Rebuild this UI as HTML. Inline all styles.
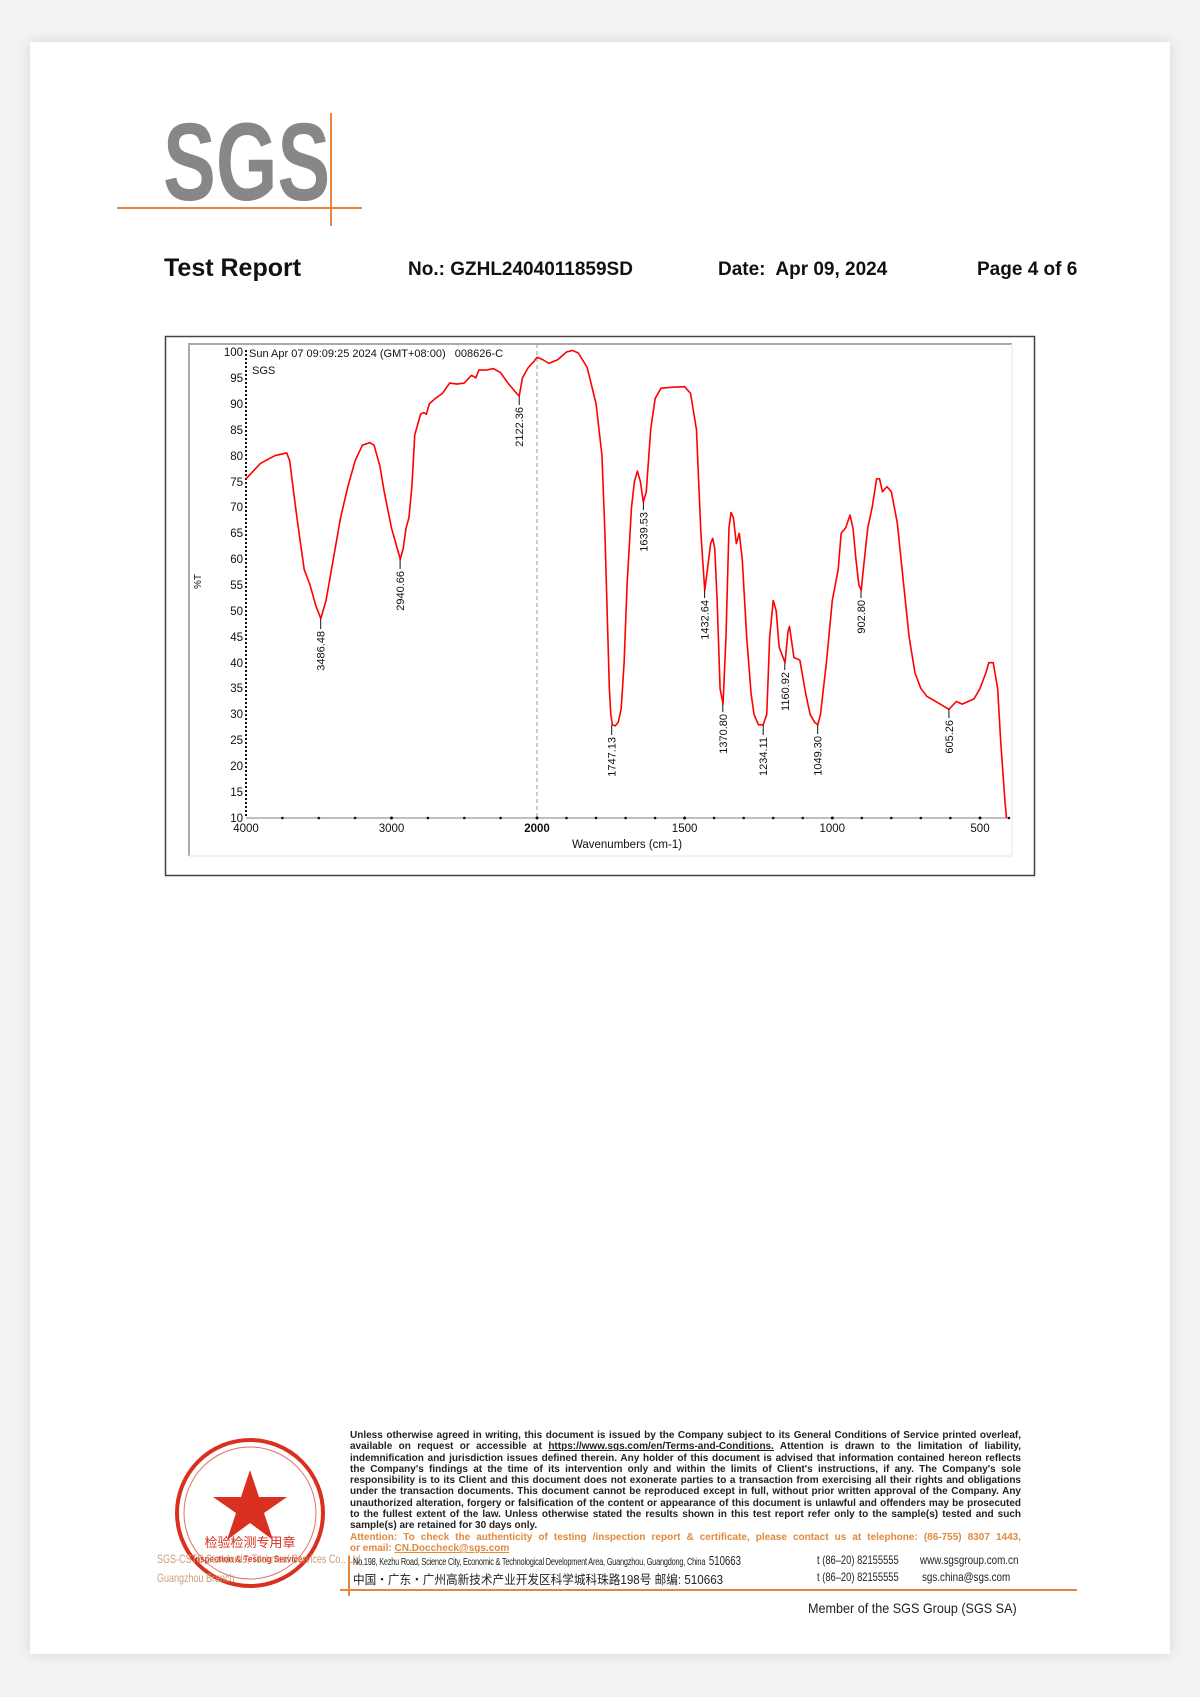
<!DOCTYPE html>
<html><head><meta charset="utf-8"><style>
body{margin:0;width:1200px;height:1697px;background:#f2f2f2;position:relative;overflow:hidden;font-family:"Liberation Sans",sans-serif}
.page{position:absolute;left:30px;top:42px;width:1140px;height:1612px;background:#fff;box-shadow:0 0 12px rgba(0,0,0,.12)}
.a{position:absolute;white-space:nowrap}
.hd{font-weight:bold;font-size:19px;top:259px;color:#111}
.sx{transform-origin:left top}
.ft{position:absolute;left:350px;width:671px;font-family:"Liberation Sans",sans-serif;font-weight:bold;font-size:10px;line-height:11.3px;color:#222}
.ft div{text-align:justify;text-align-last:justify;white-space:nowrap;height:11.3px}
</style></head><body>
<div class="page"></div>
<div class="a sx" style="left:163px;top:108px;font-size:110px;font-weight:bold;color:#878787;transform:scaleX(0.72);line-height:110px">SGS</div>
<div class="a" style="left:117px;top:207px;width:245px;height:2px;background:#e8843c"></div>
<div class="a" style="left:330px;top:113px;width:1.5px;height:113px;background:#e8843c"></div>
<div class="a hd" style="left:164px;font-size:25px;top:254px">Test Report</div>
<div class="a hd" style="left:408px">No.: GZHL2404011859SD</div>
<div class="a hd" style="left:718px">Date:&nbsp; Apr 09, 2024</div>
<div class="a hd" style="left:977px">Page 4 of 6</div>

<svg class="a" style="left:0;top:0" width="1200" height="900">
<rect x="165.5" y="336.5" width="869" height="539" fill="#fff" stroke="#444" stroke-width="1.5"/>
<path d="M189 856 V344 H1012" fill="none" stroke="#aaa" stroke-width="2"/>
<path d="M1012 344 V856 H189" fill="none" stroke="#eee" stroke-width="1.5"/>
<line x1="537" y1="344" x2="537" y2="818" stroke="#999" stroke-dasharray="4,3" stroke-width="1"/>
<line x1="246" y1="818" x2="1009" y2="818" stroke="#aaa" stroke-width="1.5"/>
<line x1="246" y1="350" x2="246" y2="818" stroke="#111" stroke-width="2" stroke-dasharray="2,2"/>
<g fill="#111">
<circle cx="282.4" cy="818" r="1.3"/><circle cx="318.8" cy="818" r="1.3"/><circle cx="355.1" cy="818" r="1.3"/><circle cx="391.5" cy="818" r="1.5"/><circle cx="427.9" cy="818" r="1.3"/><circle cx="464.3" cy="818" r="1.3"/><circle cx="500.6" cy="818" r="1.3"/><circle cx="537" cy="818" r="1.5"/>
<circle cx="566.5" cy="818" r="1.3"/><circle cx="596" cy="818" r="1.3"/><circle cx="625.6" cy="818" r="1.3"/><circle cx="655.1" cy="818" r="1.3"/><circle cx="684.6" cy="818" r="1.5"/><circle cx="714.1" cy="818" r="1.3"/><circle cx="743.7" cy="818" r="1.3"/><circle cx="773.2" cy="818" r="1.3"/><circle cx="802.7" cy="818" r="1.3"/><circle cx="832.3" cy="818" r="1.5"/><circle cx="861.8" cy="818" r="1.3"/><circle cx="891.3" cy="818" r="1.3"/><circle cx="920.8" cy="818" r="1.3"/><circle cx="950.4" cy="818" r="1.3"/><circle cx="980" cy="818" r="1.5"/><circle cx="1009" cy="818" r="1.3"/>
</g>
<g font-size="11.5" fill="#111" text-anchor="end" font-family="Liberation Sans,sans-serif">
<text x="243" y="356">100</text><text x="243" y="382">95</text><text x="243" y="408">90</text><text x="243" y="434">85</text><text x="243" y="460">80</text><text x="243" y="486">75</text><text x="243" y="511">70</text><text x="243" y="537">65</text><text x="243" y="563">60</text><text x="243" y="589">55</text><text x="243" y="615">50</text><text x="243" y="641">45</text><text x="243" y="667">40</text><text x="243" y="692">35</text><text x="243" y="718">30</text><text x="243" y="744">25</text><text x="243" y="770">20</text><text x="243" y="796">15</text><text x="243" y="822">10</text>
</g>
<g font-size="11.5" fill="#111" text-anchor="middle">
<text x="246" y="832">4000</text><text x="391.5" y="832">3000</text><text x="537" y="832" font-weight="bold">2000</text><text x="684.6" y="832">1500</text><text x="832.3" y="832">1000</text><text x="980" y="832">500</text>
<text x="627" y="848">Wavenumbers (cm-1)</text>
</g>
<text transform="translate(201,589) rotate(-90)" font-size="10" fill="#111">%T</text>
<text x="249" y="357" font-size="11" fill="#111">Sun Apr 07 09:09:25 2024 (GMT+08:00)&#160;&#160; 008626-C</text>
<text x="252" y="374" font-size="11" fill="#111">SGS</text>
<g fill="none" stroke="#f00" stroke-width="1.6" stroke-linejoin="round">
<polyline vector-effect="non-scaling-stroke" transform="translate(828,869.78) scale(-0.1455,-5.178)" points="4000,75.5 3900,78.5 3800,80 3720,80.5 3700,79 3650,68 3600,58 3560,55 3520,51 3486,48.5 3450,52 3400,60 3350,68 3300,74 3250,79 3200,82 3150,82.5 3120,82 3080,78 3050,73 3000,66 2960,62 2940,60 2920,62 2900,66 2880,68 2860,74 2840,84 2800,88 2780,88.3 2760,88 2740,90 2700,91 2650,92 2600,94 2550,93.8 2500,94 2450,95.5 2420,95 2400,96.5 2350,96.5 2300,96.8 2250,96 2200,94 2170,93 2140,92 2122,91.5 2100,95 2060,97 2020,98.2 2000,99"/>
<polyline vector-effect="non-scaling-stroke" transform="translate(1127.6,869.78) scale(-0.2953,-5.178)" points="2000,99 1980,98.5 1960,97.8 1930,98.5 1900,100 1880,100.3 1860,99.8 1830,97 1800,90 1780,80 1770,65 1760,45 1755,35 1750,30 1745,28 1735,27.8 1725,28.5 1715,31 1705,40 1695,55 1680,70 1670,75 1660,77 1650,75 1640,71 1630,73 1615,85 1600,91 1580,93 1540,93.2 1500,93.3 1480,92 1460,85 1445,65 1432,54 1425,57 1412,63 1405,64 1398,62 1390,52 1380,35 1370,32 1360,45 1350,66 1343,69 1335,68 1325,63 1315,65 1305,60 1290,45 1275,34 1265,30 1250,28 1234,28 1222,30 1212,45 1200,52 1190,50 1180,43 1160,40 1150,46 1145,47 1130,41 1110,40.5 1090,34 1075,30 1060,28.5 1049,28 1040,30 1020,40 1000,52 980,58 970,65 955,66 940,68.5 930,66 920,60 910,55 902,54 895,58 880,66 865,70 850,75.5 840,75.5 830,73 815,74 800,73 780,67 760,56 740,45 720,38 700,35 680,33.5 650,32.5 620,31.5 605,31 580,32.5 560,32 540,32.5 520,33 500,35 480,38 470,40 455,40 440,35 430,25 420,17 415,13 410,10"/>
</g>
<g stroke="#111" stroke-width="1">
<line x1="320.7" y1="619" x2="320.7" y2="629"/><line x1="400.1" y1="559" x2="400.1" y2="569"/><line x1="519.2" y1="396" x2="519.2" y2="405"/><line x1="611.7" y1="725" x2="611.7" y2="735"/><line x1="643.4" y1="502" x2="643.4" y2="510"/><line x1="704.6" y1="590" x2="704.6" y2="598"/><line x1="722.8" y1="704" x2="722.8" y2="712"/><line x1="763.2" y1="725" x2="763.2" y2="735"/><line x1="784.8" y1="663" x2="784.8" y2="670"/><line x1="817.7" y1="725" x2="817.7" y2="734"/><line x1="861" y1="590" x2="861" y2="598"/><line x1="948.9" y1="709" x2="948.9" y2="718"/>
</g>
<g font-size="11" fill="#111" text-anchor="end">
<text transform="translate(324.7,631) rotate(-90)">3486.48</text>
<text transform="translate(404.1,571) rotate(-90)">2940.66</text>
<text transform="translate(523.2,407) rotate(-90)">2122.36</text>
<text transform="translate(615.7,737) rotate(-90)">1747.13</text>
<text transform="translate(647.4,512) rotate(-90)">1639.53</text>
<text transform="translate(708.6,600) rotate(-90)">1432.64</text>
<text transform="translate(726.8,714) rotate(-90)">1370.80</text>
<text transform="translate(767.2,737) rotate(-90)">1234.11</text>
<text transform="translate(788.8,672) rotate(-90)">1160.92</text>
<text transform="translate(821.7,736) rotate(-90)">1049.30</text>
<text transform="translate(865,600) rotate(-90)">902.80</text>
<text transform="translate(952.9,720) rotate(-90)">605.26</text>
</g>
</svg>

<svg class="a" style="left:150px;top:1425px" width="200" height="180">
<circle cx="100" cy="88" r="73" fill="none" stroke="#d9301f" stroke-width="4"/>
<circle cx="100" cy="88" r="66" fill="none" stroke="#e07060" stroke-width="1"/>
<polygon points="100,45 109,72 137,72 114,88 123,115 100,98 77,115 86,88 63,72 91,72" fill="#d9301f"/>
<text x="100" y="122" font-size="13" fill="#d9301f" text-anchor="middle" font-family="Noto Sans CJK SC,sans-serif">检验检测专用章</text>
<text x="100" y="137" font-size="9.5" fill="#d9301f" font-weight="bold" text-anchor="middle" transform="translate(100,0) scale(0.85,1) translate(-100,0)">Inspection &amp; Testing Services</text>
</svg>
<div class="a sx" style="left:157px;top:1552px;font-size:12px;color:#c8a078;transform:scaleX(0.75)">SGS-CSTC Standards, Technical Services Co., Ltd.</div>
<div class="a sx" style="left:157px;top:1571px;font-size:12px;color:#c8a078;transform:scaleX(0.75)">Guangzhou Branch</div>

<div class="ft" style="top:1430px">
<div>Unless otherwise agreed in writing, this document is issued by the Company subject to its General Conditions of Service printed overleaf,</div>
<div>available on request or accessible at <u>https://www.sgs.com/en/Terms-and-Conditions.</u> Attention is drawn to the limitation of liability,</div>
<div>indemnification and jurisdiction issues defined therein. Any holder of this document is advised that information contained hereon reflects</div>
<div>the Company's findings at the time of its intervention only and within the limits of Client's instructions, if any. The Company's sole</div>
<div>responsibility is to its Client and this document does not exonerate parties to a transaction from exercising all their rights and obligations</div>
<div>under the transaction documents. This document cannot be reproduced except in full, without prior written approval of the Company. Any</div>
<div>unauthorized alteration, forgery or falsification of the content or appearance of this document is unlawful and offenders may be prosecuted</div>
<div>to the fullest extent of the law. Unless otherwise stated the results shown in this test report refer only to the sample(s) tested and such</div>
<div style="text-align-last:left">sample(s) are retained for 30 days only.</div>
<div style="color:#e08a3c">Attention: To check the authenticity of testing /inspection report &amp; certificate, please contact us at telephone: (86-755) 8307 1443,</div>
<div style="color:#e08a3c;text-align-last:left">or email: <u>CN.Doccheck@sgs.com</u></div>
</div>
<div class="a sx" style="left:353px;top:1553px;font-size:10px;color:#222;transform:scaleX(0.74);letter-spacing:-0.3px">No.198, Kezhu Road, Science City, Economic &amp; Technological Development Area, Guangzhou, Guangdong, China&nbsp; <span style="font-size:13px;letter-spacing:0">510663</span></div>
<div class="a sx" style="left:353px;top:1569px;font-size:12.5px;color:#222;font-family:'Liberation Sans','Noto Sans CJK SC',sans-serif;transform:scaleX(0.93)">中国・广东・广州高新技术产业开发区科学城科珠路198号 邮编: 510663</div>
<div class="a sx" style="left:817px;top:1553px;font-size:12px;color:#222;transform:scaleX(0.78)">t (86–20) 82155555</div>
<div class="a sx" style="left:817px;top:1570px;font-size:12px;color:#222;transform:scaleX(0.78)">t (86–20) 82155555</div>
<div class="a sx" style="left:920px;top:1553px;font-size:12px;color:#222;transform:scaleX(0.82)">www.sgsgroup.com.cn</div>
<div class="a sx" style="left:922px;top:1570px;font-size:12px;color:#222;transform:scaleX(0.82)">sgs.china@sgs.com</div>
<div class="a" style="left:348px;top:1556px;width:1.5px;height:40px;background:#e8843c"></div>
<div class="a" style="left:340px;top:1589px;width:737px;height:1.5px;background:#e8843c"></div>
<div class="a sx" style="left:808px;top:1600px;font-size:14px;color:#222;transform:scaleX(0.9)">Member of the SGS Group (SGS SA)</div>
</body></html>
